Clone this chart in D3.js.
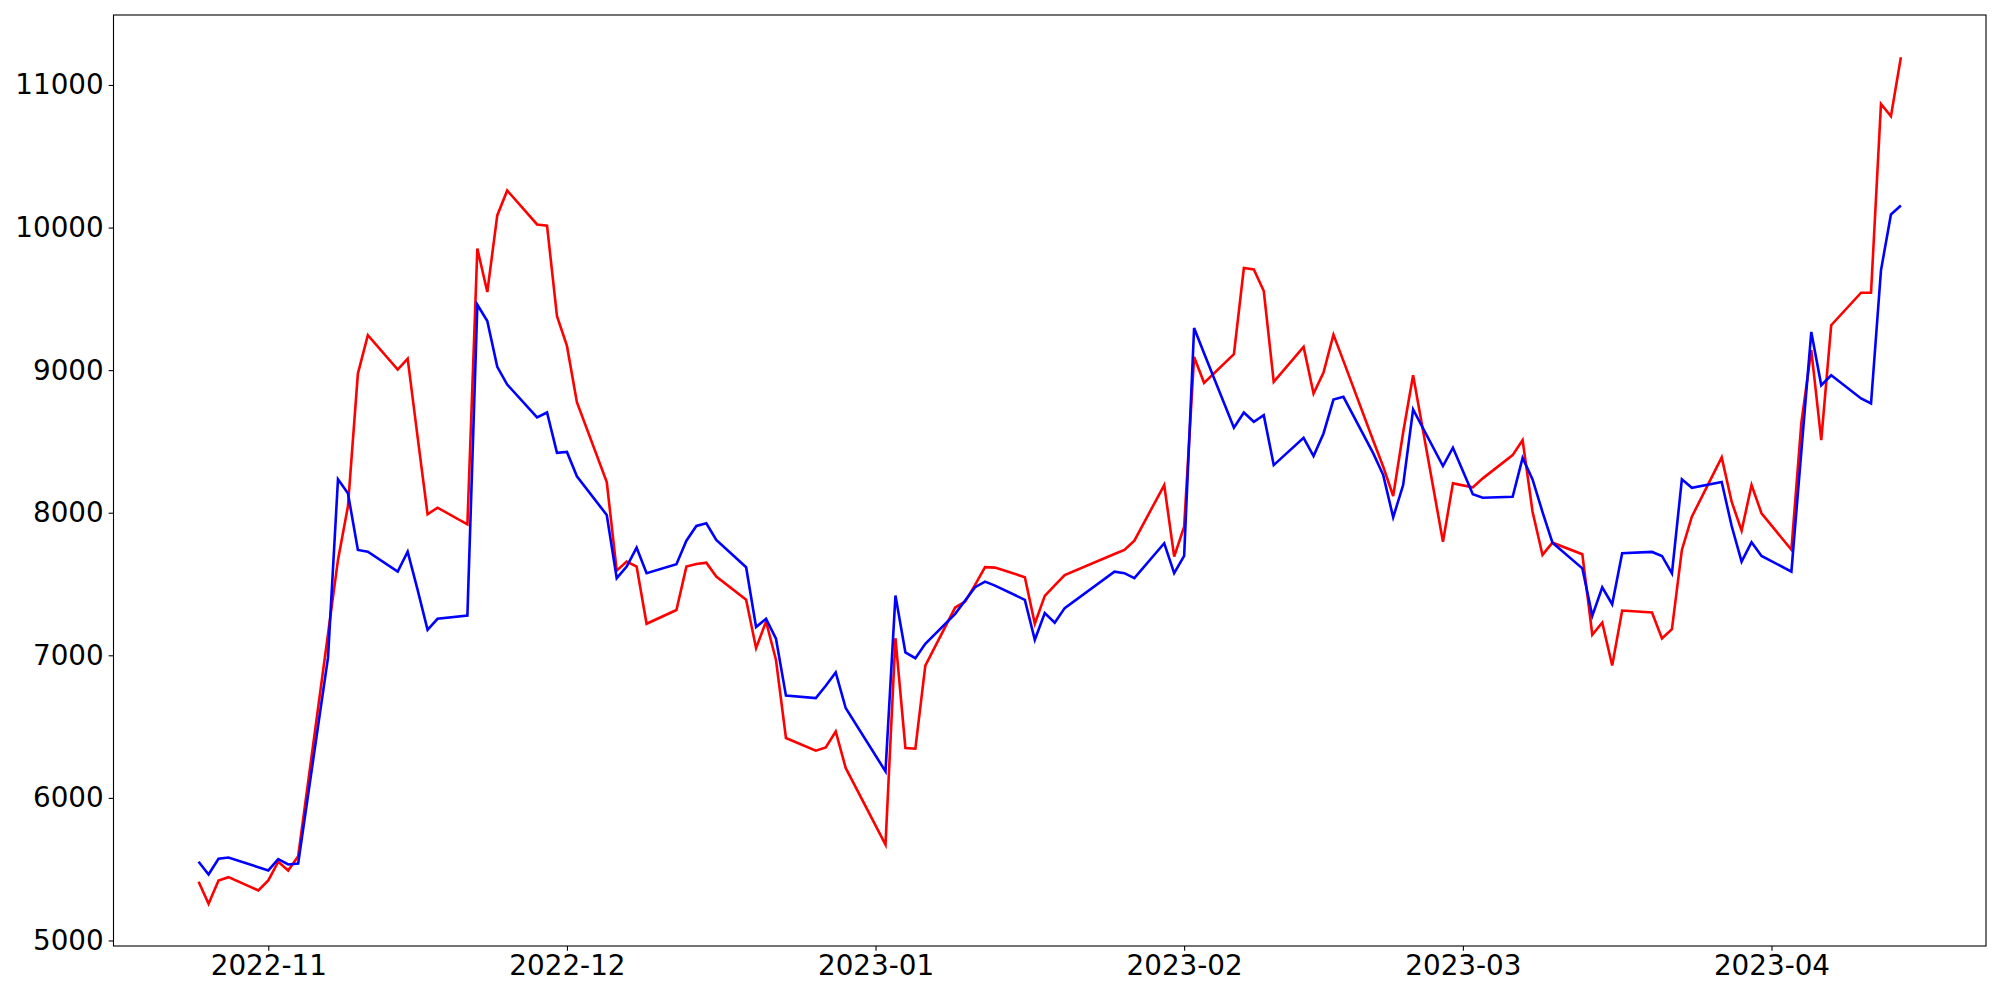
<!DOCTYPE html>
<html>
<head>
<meta charset="utf-8">
<script src="https://cdn.jsdelivr.net/npm/d3@7"></script>
<style>
  html, body { margin: 0; padding: 0; background: #fff; overflow: hidden; }
  #result { width: 2000px; height: 1000px; }
  svg { display: block; }
  text { font-family: "DejaVu Sans", sans-serif; }
</style>
</head>
<body>
<div id="result"></div>
<script>
// trading days (KRX calendar)
const dates = [
  '2022-10-25', '2022-10-26', '2022-10-27', '2022-10-28', '2022-10-31',
  '2022-11-01', '2022-11-02', '2022-11-03', '2022-11-04', '2022-11-07',
  '2022-11-08', '2022-11-09', '2022-11-10', '2022-11-11', '2022-11-14',
  '2022-11-15', '2022-11-16', '2022-11-17', '2022-11-18', '2022-11-21',
  '2022-11-22', '2022-11-23', '2022-11-24', '2022-11-25', '2022-11-28',
  '2022-11-29', '2022-11-30', '2022-12-01', '2022-12-02', '2022-12-05',
  '2022-12-06', '2022-12-07', '2022-12-08', '2022-12-09', '2022-12-12',
  '2022-12-13', '2022-12-14', '2022-12-15', '2022-12-16', '2022-12-19',
  '2022-12-20', '2022-12-21', '2022-12-22', '2022-12-23', '2022-12-26',
  '2022-12-27', '2022-12-28', '2022-12-29', '2023-01-02', '2023-01-03',
  '2023-01-04', '2023-01-05', '2023-01-06', '2023-01-09', '2023-01-10',
  '2023-01-11', '2023-01-12', '2023-01-13', '2023-01-16', '2023-01-17',
  '2023-01-18', '2023-01-19', '2023-01-20', '2023-01-25', '2023-01-26',
  '2023-01-27', '2023-01-30', '2023-01-31', '2023-02-01', '2023-02-02',
  '2023-02-03', '2023-02-06', '2023-02-07', '2023-02-08', '2023-02-09',
  '2023-02-10', '2023-02-13', '2023-02-14', '2023-02-15', '2023-02-16',
  '2023-02-17', '2023-02-20', '2023-02-21', '2023-02-22', '2023-02-23',
  '2023-02-24', '2023-02-27', '2023-02-28', '2023-03-02', '2023-03-03',
  '2023-03-06', '2023-03-07', '2023-03-08', '2023-03-09', '2023-03-10',
  '2023-03-13', '2023-03-14', '2023-03-15', '2023-03-16', '2023-03-17',
  '2023-03-20', '2023-03-21', '2023-03-22', '2023-03-23', '2023-03-24',
  '2023-03-27', '2023-03-28', '2023-03-29', '2023-03-30', '2023-03-31',
  '2023-04-03', '2023-04-04', '2023-04-05', '2023-04-06', '2023-04-07',
  '2023-04-10', '2023-04-11', '2023-04-12', '2023-04-13', '2023-04-14'
];

const redValues = [
  5412, 5258, 5421, 5444, 5351,
  5421, 5552, 5491, 5591, 7150,
  7669, 8045, 8976, 9245, 9004,
  9081, 8530, 7989, 8035, 7919,
  9852, 9548, 10085, 10260, 10022,
  10013, 9378, 9170, 8775, 8215,
  7594, 7657, 7622, 7221, 7318,
  7622, 7641, 7650, 7552, 7389,
  7050, 7237, 6967, 6420, 6331,
  6354, 6466, 6210, 5673, 7120,
  6350, 6345, 6927, 7335, 7377,
  7494, 7618, 7615, 7548, 7221,
  7417, 7490, 7563, 7711, 7739,
  7804, 8194, 7692, 7902, 9093,
  8911, 9112, 9716, 9707, 9555,
  8918, 9163, 8836, 8983, 9249,
  9065, 8505, 8322, 8117, 8563,
  8964, 7797, 8206, 8178, 8241,
  8404, 8509, 8007, 7704, 7790,
  7709, 7144, 7230, 6929, 7314,
  7300, 7118, 7183, 7739, 7972,
  8388, 8077, 7874, 8194, 7996,
  7740, 8630, 9140, 8509, 9315,
  9543, 9543, 10867, 10781, 11194
];

const blueValues = [
  5552, 5463, 5573, 5582, 5514,
  5491, 5570, 5533, 5540, 6985,
  8234, 8136, 7739, 7727, 7587,
  7727, 7459, 7179, 7256, 7279,
  9459, 9345, 9023, 8899, 8668,
  8703, 8420, 8426, 8255, 7984,
  7541, 7622, 7755, 7576, 7639,
  7804, 7907, 7926, 7809, 7618,
  7198, 7256, 7116, 6717, 6700,
  6786, 6880, 6630, 6186, 7419,
  7020, 6980, 7081, 7291, 7384,
  7478, 7517, 7489, 7389, 7109,
  7296, 7229, 7331, 7587, 7576,
  7541, 7786, 7576, 7697, 9296,
  9118, 8596, 8703, 8638, 8684,
  8334, 8525, 8397, 8556, 8794,
  8813, 8416, 8264, 7968, 8194,
  8724, 8327, 8456, 8129, 8105,
  8112, 8385, 8234, 8005, 7790,
  7610, 7277, 7477, 7358, 7716,
  7725, 7697, 7575, 8234, 8175,
  8215, 7907, 7657, 7793, 7697,
  7587, 8430, 9268, 8894, 8964,
  8801, 8766, 9700, 10092, 10155
];

const xTickLabels = ['2022-11', '2022-12', '2023-01', '2023-02', '2023-03', '2023-04'];
const yTickValues = [5000, 6000, 7000, 8000, 9000, 10000, 11000];

const width = 2000;
const height = 1000;
const margin = { top: 15, bottom: 54, left: 113.5, right: 14 };
const innerWidth = width - margin.left - margin.right;
const innerHeight = height - margin.top - margin.bottom;
const fontSize = 27.8;
const tickLen = 4.86;

const parseDate = d3.utcParse('%Y-%m-%d');
const parseMonth = d3.utcParse('%Y-%m');
const xs = dates.map(parseDate);

const svg = d3.select('#result')
  .append('svg')
  .attr('width', width)
  .attr('height', height);

const g = svg.append('g')
  .attr('transform', `translate(${margin.left}, ${margin.top})`);

// matplotlib style 5% margins on both axes
const xExtent = d3.extent(xs);
const xPad = (xExtent[1] - xExtent[0]) * 0.05;
const xScale = d3.scaleUtc()
  .domain([new Date(+xExtent[0] - xPad), new Date(+xExtent[1] + xPad)])
  .range([0, innerWidth]);

const allVals = redValues.concat(blueValues);
const yMin = d3.min(allVals);
const yMax = d3.max(allVals);
const yPad = (yMax - yMin) * 0.05;
const yScale = d3.scaleLinear()
  .domain([yMin - yPad, yMax + yPad])
  .range([innerHeight, 0]);

// lines
const line = vals => d3.line()
  .x((d, i) => xScale(xs[i]))
  .y(d => yScale(d))(vals);

g.append('path')
  .attr('d', line(redValues))
  .attr('fill', 'none')
  .attr('stroke', '#ff0000')
  .attr('stroke-width', 2.6)
  .attr('stroke-linejoin', 'miter');

g.append('path')
  .attr('d', line(blueValues))
  .attr('fill', 'none')
  .attr('stroke', '#0000ff')
  .attr('stroke-width', 2.6)
  .attr('stroke-linejoin', 'miter');

// x axis
const xAxis = d3.axisBottom(xScale)
  .tickValues(xTickLabels.map(parseMonth))
  .tickFormat(d3.utcFormat('%Y-%m'))
  .tickSize(tickLen)
  .tickPadding(4.9);

const xG = g.append('g')
  .attr('transform', `translate(0, ${innerHeight})`)
  .call(xAxis);

// y axis
const yAxis = d3.axisLeft(yScale)
  .tickValues(yTickValues)
  .tickFormat(d3.format('d'))
  .tickSize(tickLen)
  .tickPadding(4.9);

const yG = g.append('g').call(yAxis);

for (const ax of [xG, yG]) {
  ax.select('.domain').remove();
  ax.selectAll('line').attr('stroke', '#000').attr('stroke-width', 1.1);
  ax.selectAll('text')
    .attr('fill', '#000')
    .style('font-size', fontSize + 'px')
    .style('font-family', '"DejaVu Sans", sans-serif');
}

// frame
g.append('rect')
  .attr('x', 0)
  .attr('y', 0)
  .attr('width', innerWidth)
  .attr('height', innerHeight)
  .attr('fill', 'none')
  .attr('stroke', '#000')
  .attr('stroke-width', 1.1);
</script>
</body>
</html>
